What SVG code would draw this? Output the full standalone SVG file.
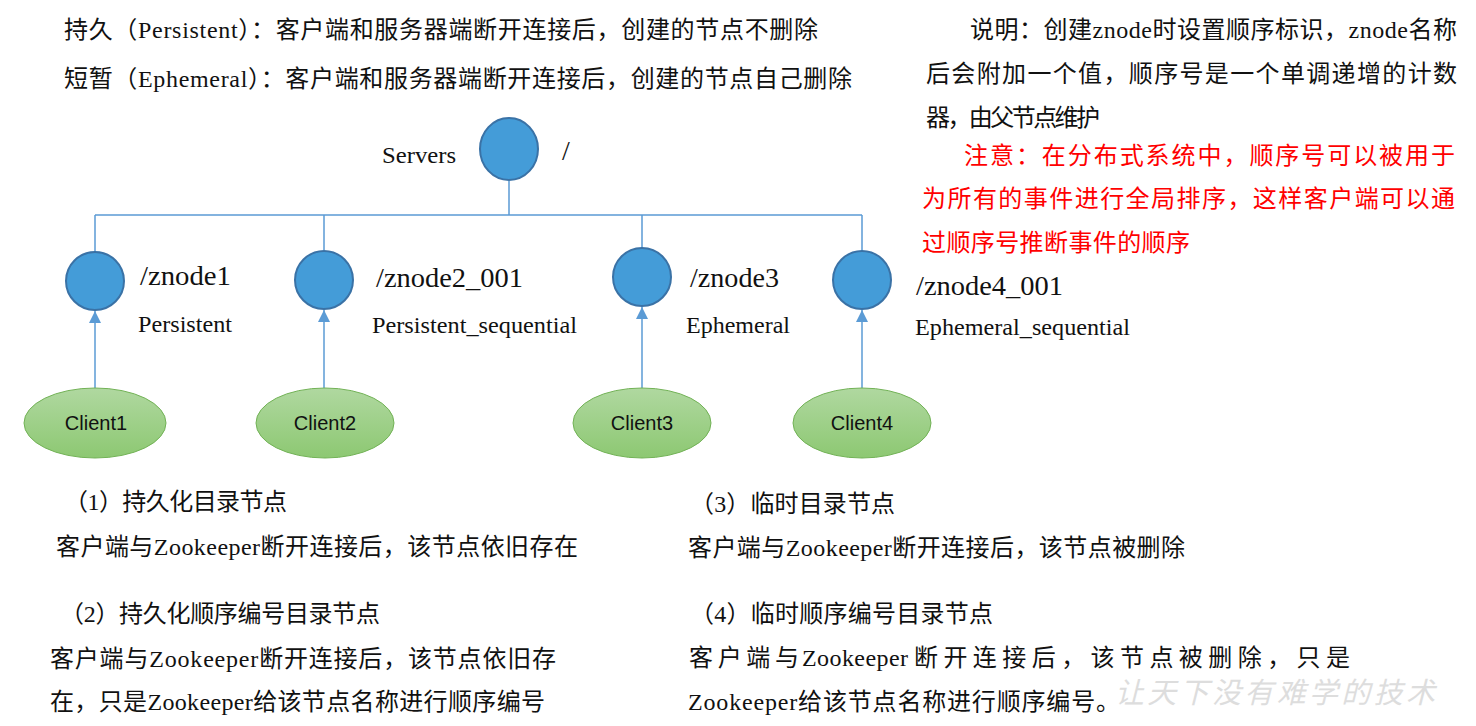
<svg xmlns="http://www.w3.org/2000/svg" width="1476" height="726" viewBox="0 0 1476 726">
<defs>
<linearGradient id="cg" x1="0" y1="0" x2="0" y2="1">
<stop offset="0" stop-color="#B0D8A0"/>
<stop offset="1" stop-color="#8DC872"/>
</linearGradient>
<marker id="ah" markerWidth="12" markerHeight="12" refX="10" refY="5" orient="auto" markerUnits="userSpaceOnUse" viewBox="0 0 10 10">
<path d="M0,0 L10,5 L0,10 Z" fill="#5B9BD5"/>
</marker>
<style>
.t{font-family:"Liberation Serif","Noto Sans CJK SC",serif;font-size:24px;fill:#111}
.r{fill:#FF0000}
.lbl{font-family:"Liberation Serif","Noto Sans CJK SC",serif;fill:#111}
.big{font-size:28px}
.sm{font-size:24px}
.node{fill:#449CD8;stroke:#3A72A6;stroke-width:2}
.client{fill:url(#cg);stroke:#72B256;stroke-width:1}
.ct{font-family:"Liberation Sans",Arial,sans-serif;font-size:20px;fill:#111;text-anchor:middle}
.ln{stroke:#5B9BD5;stroke-width:1.5;fill:none}
.wm{font-family:"Noto Sans CJK SC",sans-serif;font-size:29px;fill:#DDDDDD;font-style:italic}
</style>
</defs>
<rect width="1476" height="726" fill="#FFFFFF"/>

<g id="notes-top">
<text class="t" x="64" y="38" textLength="754">持久（Persistent）：客户端和服务器端断开连接后，创建的节点不删除</text>
<text class="t" x="64" y="87" textLength="788">短暂（Ephemeral）：客户端和服务器端断开连接后，创建的节点自己删除</text>
</g>

<g id="notes-right">
<text class="t" x="970" y="38" textLength="487">说明：创建znode时设置顺序标识，znode名称</text>
<text class="t" x="926" y="82" textLength="531">后会附加一个值，顺序号是一个单调递增的计数</text>
<text class="t" x="926" y="126" textLength="174">器，由父节点维护</text>
<text class="t r" x="964" y="164" textLength="491">注意：在分布式系统中，顺序号可以被用于</text>
<text class="t r" x="922" y="207" textLength="533">为所有的事件进行全局排序，这样客户端可以通</text>
<text class="t r" x="922" y="251" textLength="268">过顺序号推断事件的顺序</text>
</g>

<g id="connectors">
<path class="ln" d="M509,181 V215 M95,215 H862 M95,215 V252 M324,215 V250 M642,215 V248 M862,215 V251"/>
<line class="ln" x1="95" y1="388" x2="95" y2="311" marker-end="url(#ah)"/>
<line class="ln" x1="324" y1="388" x2="324" y2="310" marker-end="url(#ah)"/>
<line class="ln" x1="642" y1="388" x2="642" y2="307" marker-end="url(#ah)"/>
<line class="ln" x1="862" y1="388" x2="862" y2="310" marker-end="url(#ah)"/>
</g>

<g id="root">
<ellipse class="node" cx="509" cy="149" rx="29" ry="31"/>
<text class="lbl sm" x="382" y="163" textLength="74" lengthAdjust="spacingAndGlyphs">Servers</text>
<text class="lbl big" x="562" y="160">/</text>
</g>

<g id="znode1">
<ellipse class="node" cx="95" cy="281" rx="29" ry="29"/>
<text class="lbl big" x="140" y="285" textLength="91" lengthAdjust="spacingAndGlyphs">/znode1</text>
<text class="lbl sm" x="138" y="332" textLength="94" lengthAdjust="spacingAndGlyphs">Persistent</text>
</g>

<g id="znode2">
<ellipse class="node" cx="324" cy="280" rx="29" ry="29"/>
<text class="lbl big" x="376" y="287" textLength="147" lengthAdjust="spacingAndGlyphs">/znode2_001</text>
<text class="lbl sm" x="372" y="333" textLength="205" lengthAdjust="spacingAndGlyphs">Persistent_sequential</text>
</g>

<g id="znode3">
<ellipse class="node" cx="642" cy="277" rx="29" ry="29"/>
<text class="lbl big" x="690" y="287" textLength="89" lengthAdjust="spacingAndGlyphs">/znode3</text>
<text class="lbl sm" x="686" y="333" textLength="104" lengthAdjust="spacingAndGlyphs">Ephemeral</text>
</g>

<g id="znode4">
<ellipse class="node" cx="862" cy="280" rx="29" ry="29"/>
<text class="lbl big" x="916" y="295" textLength="147" lengthAdjust="spacingAndGlyphs">/znode4_001</text>
<text class="lbl sm" x="915" y="335" textLength="215" lengthAdjust="spacingAndGlyphs">Ephemeral_sequential</text>
</g>

<g id="client1">
<ellipse class="client" cx="95" cy="423" rx="71" ry="35"/>
<text class="ct" x="96" y="430">Client1</text>
</g>
<g id="client2">
<ellipse class="client" cx="325" cy="423" rx="69" ry="35"/>
<text class="ct" x="325" y="430">Client2</text>
</g>
<g id="client3">
<ellipse class="client" cx="642" cy="423" rx="69" ry="35"/>
<text class="ct" x="642" y="430">Client3</text>
</g>
<g id="client4">
<ellipse class="client" cx="862" cy="423" rx="69" ry="35"/>
<text class="ct" x="862" y="430">Client4</text>
</g>

<g id="notes-bottom">
<text class="t" x="64" y="510" textLength="223">（1）持久化目录节点</text>
<text class="t" x="56" y="555" textLength="522">客户端与Zookeeper断开连接后，该节点依旧存在</text>
<text class="t" x="60" y="622" textLength="320">（2）持久化顺序编号目录节点</text>
<text class="t" x="50" y="667" textLength="506">客户端与Zookeeper断开连接后，该节点依旧存</text>
<text class="t" x="50" y="710" textLength="495">在，只是Zookeeper给该节点名称进行顺序编号</text>
<text class="t" x="690" y="512" textLength="205">（3）临时目录节点</text>
<text class="t" x="688" y="556" textLength="497">客户端与Zookeeper断开连接后，该节点被删除</text>
<text class="t" x="690" y="622" textLength="303">（4）临时顺序编号目录节点</text>
<text class="t" y="666"><tspan x="689" textLength="110">客户端与</tspan><tspan x="802" textLength="106">Zookeeper</tspan><tspan x="914" textLength="436">断开连接后，该节点被删除，只是</tspan></text>
<text class="t" x="688" y="710" textLength="432">Zookeeper给该节点名称进行顺序编号。</text>
</g>

<text class="wm" x="1115" y="703" textLength="320">让天下没有难学的技术</text>
</svg>
